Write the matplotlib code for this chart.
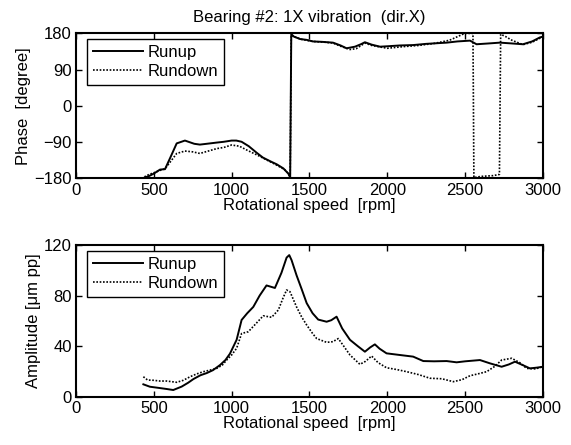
import matplotlib

matplotlib.use("Agg")
import matplotlib.pyplot as plt

plt.rcParams["font.family"] = ["Liberation Sans", "DejaVu Sans"]
plt.rcParams["font.size"] = 12

# phase, runup (deg vs rpm) -- jump at ~1380 rpm is the +/-180 wrap
up_ph_rpm = [440, 470, 500, 540, 572, 604, 625, 647, 670, 700, 730, 760, 796,
             840, 904, 950, 1000, 1030, 1064, 1110, 1160, 1200, 1246, 1290,
             1332, 1364, 1376, 1383, 1400, 1439, 1480, 1522, 1580, 1651, 1700,
             1738, 1792, 1830, 1856, 1900, 1953, 2000, 2080, 2166, 2250, 2381,
             2450, 2531, 2573, 2650, 2723, 2800, 2871, 2930, 2980, 3000]
up_ph = [-178, -174, -168, -158, -157, -130, -112, -93, -90, -86, -90, -94,
         -96, -94, -91, -89, -86, -86, -89, -100, -116, -128, -137, -145,
         -155, -168, -177, 178, 172, 166, 164, 160, 159, 157, 150, 143, 147,
         153, 158, 152, 147, 148, 150, 151, 154, 157, 160, 162, 153, 155,
         157, 155, 153, 160, 170, 172]

# phase, rundown -- wraps at ~1380 and again between ~2556 and ~2725 rpm
dn_ph_rpm = [440, 470, 500, 540, 572, 604, 647, 700, 750, 796, 850, 904,
             950, 1000, 1050, 1100, 1180, 1230, 1280, 1340, 1365, 1376, 1383,
             1400, 1450, 1522, 1600, 1651, 1700, 1760, 1800, 1856, 1900, 2000,
             2100, 2200, 2300, 2400, 2440, 2497, 2550, 2556, 2600, 2680, 2720,
             2728, 2760, 2800, 2871, 2930, 2980, 3000]
dn_ph = [-176, -170, -166, -160, -156, -140, -118, -112, -114, -118, -112,
         -106, -103, -97, -100, -110, -125, -135, -145, -158, -168, -178, 176,
         172, 165, 160, 158, 156, 148, 140, 142, 156, 150, 143, 147, 150, 155,
         163, 170, 180, 180, -178, -175, -173, -170, 178, 172, 163, 152, 158,
         168, 172]

# amplitude, runup (um pp vs rpm)
up_amp_rpm = [433, 475, 530, 583, 625, 679, 720, 755, 800, 840, 880, 925, 960,
              989, 1032, 1064, 1100, 1139, 1180, 1224, 1278, 1320, 1353, 1370,
              1385, 1417, 1450, 1482, 1520, 1556, 1610, 1640, 1674, 1710, 1760,
              1810, 1856, 1890, 1920, 1950, 1995, 2080, 2166, 2231, 2300, 2381,
              2445, 2500, 2595, 2659, 2734, 2780, 2820, 2870, 2916, 2960, 3000]
up_amp = [9.8, 7.9, 7.0, 6.1, 5.3, 8.0, 11, 14, 17, 18.7, 21, 25, 29, 34, 45,
          60.7, 66, 71, 80, 88, 86, 98, 110, 112, 108, 96, 85, 74, 66, 61,
          59.3, 60.5, 63.3, 54, 45, 40, 35.6, 39, 41.4, 38, 34.3, 33, 31.7,
          28.2, 28, 28.2, 27.2, 28, 29, 26.4, 23.7, 25.5, 27.7, 25, 22.4, 23,
          23.7]

# amplitude, rundown
dn_amp_rpm = [433, 460, 497, 540, 583, 647, 690, 733, 775, 818, 860, 904, 940,
              968, 1000, 1032, 1064, 1107, 1150, 1203, 1257, 1300, 1330, 1353,
              1375, 1417, 1450, 1482, 1520, 1546, 1610, 1650, 1685, 1720, 1760,
              1824, 1860, 1899, 1940, 1995, 2060, 2124, 2200, 2274, 2350, 2424,
              2480, 2531, 2580, 2638, 2690, 2734, 2799, 2850, 2895, 2950, 3000]
dn_amp = [15.8, 13.2, 13.0, 12.4, 12.4, 11.4, 13, 15.8, 18, 19.8, 21, 22.4,
          25, 29, 33, 38.3, 50, 51.4, 57, 64, 62.8, 68.6, 78, 84.4, 83, 71, 63,
          56.7, 50, 46, 43, 43.5, 46, 40, 33, 25.6, 28, 32.2, 27, 22.9, 21.5,
          19.8, 17.5, 14.6, 14.2, 11.9, 13.5, 16.6, 18, 19.8, 24, 29, 30.4,
          27, 22.4, 22, 23.7]

XTICKS = [0, 500, 1000, 1500, 2000, 2500, 3000]
DOTTED = (0, (1, 1))


def style_axes(ax):
    for sp in ax.spines.values():
        sp.set_linewidth(1.5)
    ax.tick_params(direction="in", top=True, right=True, length=4, width=1,
                   labelsize=12, pad=3)
    ax.set_xlim(0, 3000)
    ax.set_xticks(XTICKS)
    ax.set_xlabel("Rotational speed  [rpm]", labelpad=0)


def add_legend(ax):
    leg = ax.legend(loc="upper left", bbox_to_anchor=(0.024, 0.96),
                    borderaxespad=0, fancybox=False, framealpha=1,
                    edgecolor="black", handlelength=3.0, handletextpad=0.3,
                    borderpad=0.35, labelspacing=0.25, fontsize=12)
    leg.get_frame().set_linewidth(1.0)


fig = plt.figure(figsize=(5.71, 4.45), dpi=100)

ax1 = fig.add_axes([0.133, 0.599, 0.818, 0.326])
ax1.plot(up_ph_rpm, up_ph, "-", color="black", lw=1.4, label="Runup")
ax1.plot(dn_ph_rpm, dn_ph, linestyle=DOTTED, color="black", lw=1.2,
         label="Rundown")
style_axes(ax1)
ax1.set_ylim(-180, 180)
ax1.set_yticks([-180, -90, 0, 90, 180])
ax1.set_ylabel("Phase  [degree]", labelpad=2)
ax1.set_title("Bearing #2: 1X vibration  (dir.X)", fontsize=12, pad=8)
add_legend(ax1)

ax2 = fig.add_axes([0.133, 0.1085, 0.818, 0.341])
ax2.plot(up_amp_rpm, up_amp, "-", color="black", lw=1.4, label="Runup")
ax2.plot(dn_amp_rpm, dn_amp, linestyle=DOTTED, color="black", lw=1.2,
         label="Rundown")
style_axes(ax2)
ax2.set_ylim(0, 120)
ax2.set_yticks([0, 40, 80, 120])
ax2.set_ylabel("Amplitude [\u03bcm pp]", labelpad=2)
add_legend(ax2)

fig.savefig("out.png", dpi=100)
